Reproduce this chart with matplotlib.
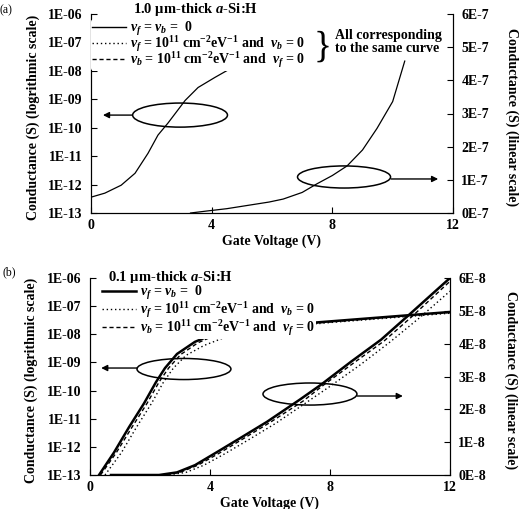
import numpy as np
import matplotlib
matplotlib.use('Agg')
import matplotlib.pyplot as plt
from matplotlib.patches import Ellipse
from matplotlib.lines import Line2D

plt.rcParams['font.family'] = 'Liberation Serif'
plt.rcParams['font.weight'] = 'bold'
plt.rcParams['mathtext.fontset'] = 'custom'
plt.rcParams['mathtext.rm'] = 'Liberation Serif:bold'
plt.rcParams['mathtext.it'] = 'Liberation Serif:italic:bold'
plt.rcParams['mathtext.bf'] = 'Liberation Serif:bold'

# ---- data ----
# (a) 1.0 um film, all three cases fall on the same curve
a_log_v = [0, 0.46, 1.0, 1.46, 1.89, 2.22, 2.55, 3.12, 3.55, 4.11, 4.64, 5.2, 5.6]
a_log_g = [3.6e-13, 5.0e-13, 9.5e-13, 2.5e-12, 1.26e-11, 5.5e-11, 1.45e-10,
           9.1e-10, 2.6e-9, 5.9e-9, 1.23e-8, 1.8e-8, 2.2e-8]
a_lin_v = [3.3, 3.84, 4.5, 5.27, 5.9, 6.37, 7.0, 7.49, 8.0, 8.49, 9.0, 9.48, 10.0, 10.4]
a_lin_g = [0, 0.06e-7, 0.13e-7, 0.24e-7, 0.33e-7, 0.42e-7, 0.62e-7, 0.88e-7,
           1.13e-7, 1.42e-7, 1.9e-7, 2.55e-7, 3.36e-7, 4.58e-7]

# (b) 0.1 um film
b_log_v_0 = [0.3, 0.8, 1.3, 1.8, 2.2, 2.5, 2.9, 3.5, 4.17, 4.7, 5.5, 7.77, 12]
b_log_g_0 = [1e-13, 6.3e-13, 5.0e-12, 3.5e-11, 2.0e-10, 6.3e-10, 2.0e-9, 5.4e-9,
             1.07e-8, 1.48e-8, 1.78e-8, 2.75e-8, 6.2e-8]
b_log_v_f = [0.5, 1.05, 1.55, 2.05, 2.45, 2.78, 3.2, 3.8, 4.4, 4.9, 5.5, 7.77, 12]
b_log_g_f = [1e-13, 6.3e-13, 5.0e-12, 3.5e-11, 2.0e-10, 6.3e-10, 1.78e-9, 4.0e-9,
             7.1e-9, 1.0e-8, 1.26e-8, 2.5e-8, 5.6e-8]
b_log_v_b = [0.35, 0.88, 1.4, 1.9, 2.3, 2.62, 3.02, 3.6, 4.25, 4.8, 5.5, 7.77, 12]
b_log_g_b = [1e-13, 6.3e-13, 5.0e-12, 3.5e-11, 2.0e-10, 6.3e-10, 1.9e-9, 5.0e-9,
             1.0e-8, 1.38e-8, 1.66e-8, 2.63e-8, 6.0e-8]

b_lin_v_0 = [0.7, 2.3, 2.9, 3.5, 4.2, 5.0, 5.9, 7.0, 7.7, 8.7, 9.7, 10.6, 12.0]
b_lin_g_0 = [0, 0, 0.08e-8, 0.3e-8, 0.68e-8, 1.12e-8, 1.62e-8, 2.3e-8, 2.75e-8,
             3.45e-8, 4.12e-8, 4.85e-8, 6.0e-8]
b_lin_v_f = [0.7, 2.6, 3.2, 3.8, 4.5, 5.3, 6.2, 7.2, 8.0, 9.0, 10.0, 11.0, 12.0]
b_lin_g_f = [0, 0, 0.08e-8, 0.3e-8, 0.65e-8, 1.08e-8, 1.58e-8, 2.2e-8, 2.7e-8,
             3.35e-8, 4.05e-8, 4.8e-8, 5.6e-8]
b_lin_v_b = [0.7, 2.4, 3.0, 3.6, 4.3, 5.1, 6.0, 7.1, 7.8, 8.8, 9.8, 10.7, 12.0]
b_lin_g_b = [0, 0, 0.08e-8, 0.3e-8, 0.66e-8, 1.1e-8, 1.6e-8, 2.25e-8, 2.75e-8,
             3.42e-8, 4.08e-8, 4.8e-8, 5.9e-8]

x_ticks = [0, 4, 8, 12]
log_ticks = [1e-13, 1e-12, 1e-11, 1e-10, 1e-9, 1e-8, 1e-7, 1e-6]
log_labels = ['1E-13', '1E-12', '1E-11', '1E-10', '1E-09', '1E-08', '1E-07', '1E-06']
lin_ticks_a = [0, 1e-7, 2e-7, 3e-7, 4e-7, 5e-7, 6e-7]
lin_labels_a = ['0E-7', '1E-7', '2E-7', '3E-7', '4E-7', '5E-7', '6E-7']
lin_ticks_b = [0, 1e-8, 2e-8, 3e-8, 4e-8, 5e-8, 6e-8]
lin_labels_b = ['0E-8', '1E-8', '2E-8', '3E-8', '4E-8', '5E-8', '6E-8']

leg_labels = [r'$\nu_f$ = $\nu_b$ =  0',
              r'$\nu_f$ = 10$^{11}$ cm$^{-2}$eV$^{-1}$ and  $\nu_b$ = 0',
              r'$\nu_b$ = 10$^{11}$ cm$^{-2}$eV$^{-1}$ and  $\nu_f$ = 0']

DOT = (0, (1, 2))
DASH = (0, (3, 2))
FS = 10

fig = plt.figure(figsize=(5.22, 5.09), dpi=100)
ax_a = fig.add_axes([91/522, 1 - 213/509, 362/522, 199/509])
ax_b = fig.add_axes([90/522, 1 - 475/509, 360/522, 197/509])


def style_panel(ax, ax2, lin_ticks, lin_labels, lx, rx):
    ax.set_xlim(0, 12)
    ax.set_yscale('log')
    ax.set_ylim(1e-13, 1e-6)
    ax.set_xticks(x_ticks)
    ax.set_yticks(log_ticks)
    ax.set_yticklabels(log_labels)
    ax.minorticks_off()
    ax2.set_ylim(0, lin_ticks[-1])
    ax2.set_yticks(lin_ticks)
    ax2.set_yticklabels(lin_labels)
    for a in (ax, ax2):
        a.spines['top'].set_visible(False)
        a.tick_params(direction='in', length=4, width=0.8, labelsize=FS, pad=6)
    ax.tick_params(axis='x', pad=4)
    ax.set_xlabel('Gate Voltage (V)', fontsize=FS, fontweight='bold', labelpad=2)
    ax.set_ylabel('Conductance (S) (logrithmic scale)', fontsize=FS, fontweight='bold')
    ax.yaxis.set_label_coords(lx, 0.48)
    ax2.set_ylabel('Conductance (S) (linear scale)', fontsize=FS, fontweight='bold',
                   rotation=-90, va='center')
    ax2.yaxis.set_label_coords(rx, 0.48)


def loop_arrow(ax, cx, cy, w, h, x0, x1, y):
    ax.add_patch(Ellipse((cx, cy), w, h, transform=ax.transAxes, fill=False,
                         lw=1.1, ec='black', zorder=6))
    ax.annotate('', xy=(x1, y), xytext=(x0, y), xycoords='axes fraction',
                arrowprops=dict(arrowstyle='-|>', color='black', lw=1,
                                mutation_scale=9, shrinkA=0, shrinkB=0), zorder=6)


def add_legend(ax, lw_solid, anchor, spacing):
    handles = [Line2D([], [], color='black', lw=lw_solid),
               Line2D([], [], color='black', lw=1, ls=DOT),
               Line2D([], [], color='black', lw=1, ls=DASH)]
    leg = ax.legend(handles, leg_labels, loc='upper left', bbox_to_anchor=anchor,
                    fontsize=FS, frameon=True, framealpha=1, facecolor='white',
                    edgecolor='none', borderpad=0.1, handlelength=2.4,
                    handletextpad=0.3, labelspacing=spacing, borderaxespad=0)
    leg.set_zorder(5)


# ---------------- panel (a) ----------------
ax_a2 = ax_a.twinx()
ax_a2.set_zorder(ax_a.get_zorder() - 1)
ax_a.patch.set_visible(False)
ax_a.plot(a_log_v, a_log_g, color='black', lw=0.9)
ax_a2.plot(a_lin_v, a_lin_g, color='black', lw=0.9)
style_panel(ax_a, ax_a2, lin_ticks_a, lin_labels_a, -0.141, 1.163)
add_legend(ax_a, 1.0, (0.0, 0.975), -0.3)
ax_a.text(0.116, 1.025, r'1.0 μm-thick $a$-Si:H', transform=ax_a.transAxes,
          fontsize=10.5, va='center', ha='left')
ax_a.text(0.615, 0.83, '}', transform=ax_a.transAxes, fontsize=27,
          fontweight='normal', va='center', ha='left')
ax_a.text(0.673, 0.86, 'All corresponding\nto the same curve', transform=ax_a.transAxes,
          fontsize=FS, va='center', ha='left', linespacing=1.05)
loop_arrow(ax_a, 0.246, 0.492, 0.262, 0.121, 0.113, 0.033, 0.492)
loop_arrow(ax_a, 0.699, 0.181, 0.257, 0.111, 0.829, 0.959, 0.171)

# ---------------- panel (b) ----------------
ax_b2 = ax_b.twinx()
ax_b2.set_zorder(ax_b.get_zorder() - 1)
ax_b.patch.set_visible(False)
ax_b.plot(b_log_v_0, b_log_g_0, color='black', lw=1.8)
ax_b.plot(b_log_v_f, b_log_g_f, color='black', lw=1, ls=DOT)
ax_b.plot(b_log_v_b, b_log_g_b, color='black', lw=1, ls=DASH)
ax_b2.plot(b_lin_v_0, b_lin_g_0, color='black', lw=1.8)
ax_b2.plot(b_lin_v_f, b_lin_g_f, color='black', lw=1, ls=DOT)
ax_b2.plot(b_lin_v_b, b_lin_g_b, color='black', lw=1, ls=DASH)
style_panel(ax_b, ax_b2, lin_ticks_b, lin_labels_b, -0.144, 1.169)
add_legend(ax_b, 1.8, (0.03, 0.975), -0.15)
ax_b.text(0.05, 1.005, r'0.1 μm-thick $a$-Si:H', transform=ax_b.transAxes,
          fontsize=10.5, va='center', ha='left')
loop_arrow(ax_b, 0.261, 0.538, 0.261, 0.107, 0.131, 0.031, 0.543)
loop_arrow(ax_b, 0.611, 0.411, 0.261, 0.112, 0.742, 0.869, 0.401)

fig.text(0.0, 1 - 10/509, '(a)', fontsize=8.5, fontweight='normal', va='center')
fig.text(0.004, 1 - 272/509, '(b)', fontsize=8.5, fontweight='normal', va='center')

fig.savefig('out.png', dpi=100)
